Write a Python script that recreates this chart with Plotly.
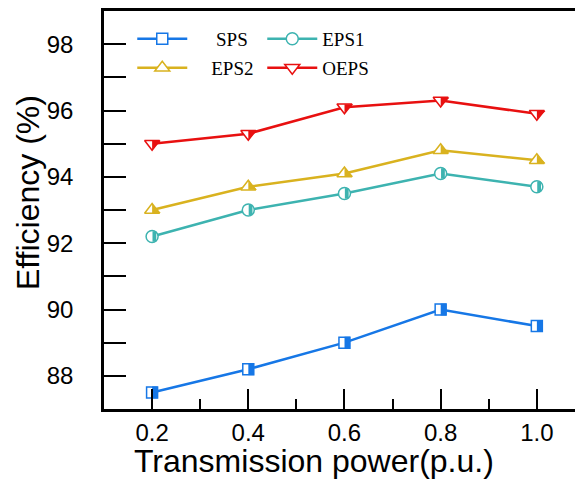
import plotly.graph_objects as go

power = [0.2, 0.4, 0.6, 0.8, 1.0]
sps = [87.5, 88.2, 89.0, 90.0, 89.5]
eps1 = [92.2, 93.0, 93.5, 94.1, 93.7]
eps2 = [93.0, 93.7, 94.1, 94.8, 94.5]
oeps = [95.0, 95.3, 96.1, 96.3, 95.9]
x_ticks = [0.2, 0.4, 0.6, 0.8, 1.0]
x_ticklabels = ["0.2", "0.4", "0.6", "0.8", "1.0"]
y_ticks = [88, 90, 92, 94, 96, 98]

C_SPS = "#1677e6"
C_EPS1 = "#3db3b0"
C_EPS2 = "#d9b21f"
C_OEPS = "#e81010"

# the page body has an 8px margin, so the figure is sized/offset to compensate
W, H = 575, 472
ML, MR, MT, MB = 96, 0, 3, 71
XR = [0.1, 1.096]
YR = [87, 99]
plot_w = W - ML - MR
upp = (XR[1] - XR[0]) / plot_w  # data units per pixel

NB = "\u00a0"
fig = go.Figure()

series = [
    ("SPS", NB * 5 + "SPS", sps, C_SPS, "square", 11, "legend"),
    ("EPS1", "EPS1", eps1, C_EPS1, "circle", 12, "legend"),
    ("EPS2", NB * 4 + "EPS2", eps2, C_EPS2, "triangle-up", 13, "legend2"),
    ("OEPS", "OEPS", oeps, C_OEPS, "triangle-down", 13, "legend2"),
]
for key, label, vals, col, sym, sz, lg in series:
    fig.add_trace(go.Scatter(
        x=power, y=vals, name=label, mode="lines+markers", legend=lg,
        line=dict(color=col, width=2.5),
        marker=dict(symbol=sym, size=sz, color="white",
                    line=dict(color=col, width=1.5)),
    ))

# half-fill overlays on slightly shifted overlaying axes
overlays = [
    (sps, C_SPS, "line-ns", 8.5, 5.5, 2.8),
    (eps1, C_EPS1, "line-ns", 7.5, 3.8, 2.3),
    (eps2, C_EPS2, "triangle-sw", 9.6, 0, 2.9),
    (oeps, C_OEPS, "triangle-nw", 9.6, 0, 2.9),
]
for i, (vals, col, sym, sz, lw, shift) in enumerate(overlays):
    ax = i + 2
    d = shift * upp
    fig.add_trace(go.Scatter(
        x=power, y=vals, mode="markers", showlegend=False,
        xaxis=f"x{ax}", yaxis="y", hoverinfo="skip",
        marker=dict(symbol=sym, size=sz, color=col,
                    line=dict(color=col, width=lw)),
    ))
    fig.layout[f"xaxis{ax}"] = dict(overlaying="x", range=[XR[0] - d, XR[1] - d],
                                    visible=False, fixedrange=True, automargin=False)

legend_common = dict(
    orientation="h", xanchor="left", yanchor="middle",
    font=dict(family="Liberation Serif, Times New Roman, serif", size=19, color="black"),
    entrywidth=65, entrywidthmode="pixels", itemwidth=50,
    bgcolor="rgba(0,0,0,0)", traceorder="normal",
)

fig.update_layout(
    width=W, height=H,
    margin=dict(l=ML, r=MR, t=MT, b=MB, autoexpand=False),
    paper_bgcolor="white", plot_bgcolor="white",
    font=dict(family="Liberation Sans, Arial, sans-serif", color="black"),
    showlegend=True,
    legend=dict(x=0.059, y=0.93, **legend_common),
    legend2=dict(x=0.059, y=0.857, **legend_common),
    xaxis=dict(
        range=XR, showgrid=False, zeroline=False, automargin=False,
        showline=True, linecolor="black", linewidth=2.5, mirror=True,
        ticks="inside", ticklen=20, tickwidth=2, tickcolor="black",
        tickvals=x_ticks, ticktext=x_ticklabels,
        tickfont=dict(size=24),
        minor=dict(dtick=0.1, tick0=0.1, ticks="inside", ticklen=10, tickwidth=2, tickcolor="black"),
    ),
    yaxis=dict(
        range=YR, showgrid=False, zeroline=False, automargin=False,
        showline=True, linecolor="black", linewidth=2.5,
        ticks="inside", ticklen=22, tickwidth=2, tickcolor="black",
        tickvals=y_ticks, tickfont=dict(size=24),
        ticklabelstandoff=23,
        minor=dict(dtick=1, tick0=87, ticks="inside", ticklen=22, tickwidth=2, tickcolor="black"),
    ),
    annotations=[
        dict(text="Transmission power(p.u.)", xref="paper", yref="paper",
             x=0.438, y=-0.1307, xanchor="center", yanchor="middle",
             showarrow=False, font=dict(size=32)),
        dict(text="Efficiency (%)", xref="paper", yref="paper",
             x=-0.1587, y=0.545, xanchor="center", yanchor="middle",
             textangle=-90, showarrow=False, font=dict(size=32)),
    ],
)

fig.write_html("out.html")
